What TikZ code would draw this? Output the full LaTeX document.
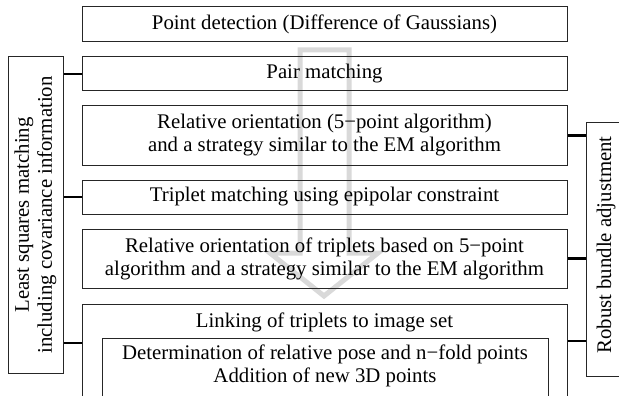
\documentclass[tikz,border=0pt]{standalone}
\usepackage{fontspec}
\setmainfont{Liberation Serif}
\begin{document}
\begin{tikzpicture}[x=1pt,y=-1pt,
  box/.style={draw=black!85, line width=1pt, inner sep=0pt, minimum width=485pt},
  txt/.style={font=\fontsize{20.8}{23}\selectfont, align=center, inner sep=0pt},
  conn/.style={draw=black, line width=2.4pt},
  flow/.style={draw=black!15, line width=5pt, line join=miter}]
\useasboundingbox (0,0) rectangle (619,396);
\clip (0,0) rectangle (619,396);
% big hollow arrow behind
\draw[flow] (300,50) -- (300,253) -- (270,253) -- (324,296) -- (378,253) -- (349,253) -- (349,50) -- cycle;
% main boxes
\node[box, minimum height=35pt] (b1) at (324.5,24.5) {};
\node[txt] (t1) at (b1) {Point detection (Difference of Gaussians)};
\node[box, minimum height=34pt] (b2) at (324.5,74) {};
\node[txt] (t2) at (b2) {Pair matching};
\node[box, minimum height=59pt] (b3) at (324.5,135.5) {};
\node[txt] (t3) at (b3) {Relative orientation (5−point algorithm)\\and a strategy similar to the EM algorithm};
\node[box, minimum height=34pt] (b4) at (324.5,197) {};
\node[txt] (t4) at (b4) {Triplet matching using epipolar constraint};
\node[box, minimum height=59pt] (b5) at (324.5,258.5) {};
\node[txt] (t5) at (b5) {Relative orientation of triplets based on 5−point\\algorithm and a strategy similar to the EM algorithm};
\node[box, minimum height=130pt] (b6) at (324.5,369) {};
\node[txt] (t6) at (324.5,322) {Linking of triplets to image set};
\node[box, minimum width=446pt, minimum height=100pt] (b7) at (325,388) {};
\node[txt] (t7) at (325,366) {Determination of relative pose and n−fold points\\Addition of new 3D points};
% side boxes
\node[box, minimum width=55pt, minimum height=316pt] (L) at (35.5,215) {};
\node[txt, rotate=90] (tL) at (L) {Least squares matching\\including covariance information};
\node[box, minimum width=44pt, minimum height=254pt] (R) at (608,249) {};
\node[txt, rotate=90] (tR) at (606,245) {Robust bundle adjustment};
% connectors
\draw[conn] (L.east |- b2) -- (b2.west);
\draw[conn] (L.east |- b4) -- (b4.west);
\draw[conn] (L.east |- 0,343) -- (b6.west |- 0,343);
\draw[conn] (b3.east) -- (R.west |- b3);
\draw[conn] (b5.east) -- (R.west |- b5);
\draw[conn] (b6.east |- 0,341) -- (R.west |- 0,341);
\end{tikzpicture}
\end{document}
